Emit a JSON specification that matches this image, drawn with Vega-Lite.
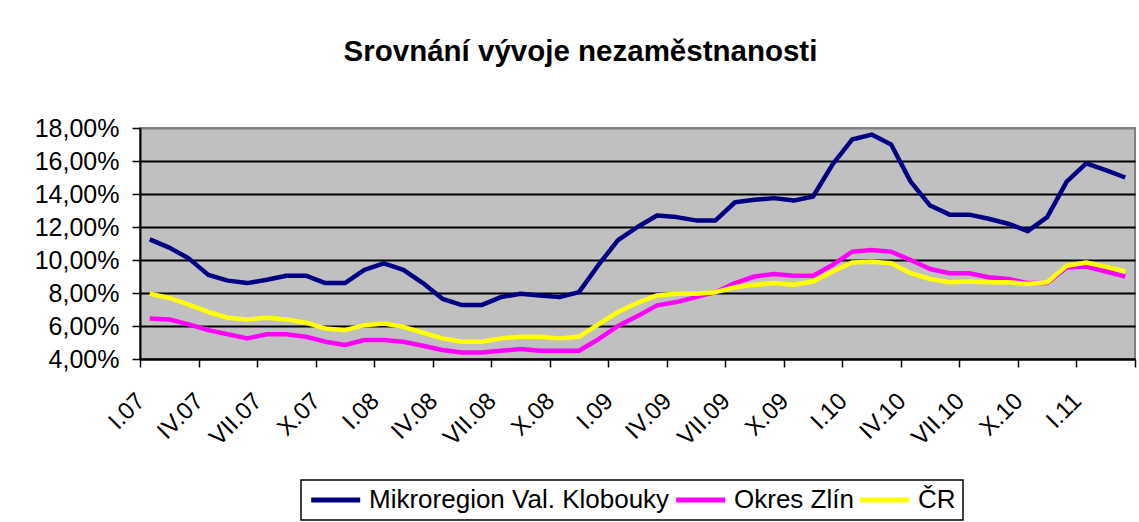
{
  "$schema": "https://vega.github.io/schema/vega-lite/v6.json",
  "autosize": {"type": "none"},
  "width": 995,
  "height": 231,
  "padding": {"left": 140, "top": 128, "right": 4, "bottom": 163},
  "background": "white",
  "title": {
    "text": "Srovnání vývoje nezaměstnanosti",
    "font": "Liberation Sans",
    "fontSize": 29.5,
    "fontWeight": "bold",
    "color": "black",
    "anchor": "middle",
    "frame": "group",
    "dx": -57,
    "baseline": "alphabetic",
    "offset": 26
  },
  "data": {
    "values": [
      {"i": 0, "m": "I.07", "klobouky": 11.25, "zlin": 6.45, "cr": 7.95},
      {"i": 1, "m": "II.07", "klobouky": 10.75, "zlin": 6.4, "cr": 7.7},
      {"i": 2, "m": "III.07", "klobouky": 10.1, "zlin": 6.1, "cr": 7.3},
      {"i": 3, "m": "IV.07", "klobouky": 9.1, "zlin": 5.75, "cr": 6.85},
      {"i": 4, "m": "V.07", "klobouky": 8.75, "zlin": 5.5, "cr": 6.5},
      {"i": 5, "m": "VI.07", "klobouky": 8.6, "zlin": 5.25, "cr": 6.4},
      {"i": 6, "m": "VII.07", "klobouky": 8.8, "zlin": 5.5, "cr": 6.5},
      {"i": 7, "m": "VIII.07", "klobouky": 9.05, "zlin": 5.5, "cr": 6.4},
      {"i": 8, "m": "IX.07", "klobouky": 9.05, "zlin": 5.35, "cr": 6.2},
      {"i": 9, "m": "X.07", "klobouky": 8.6, "zlin": 5.05, "cr": 5.85},
      {"i": 10, "m": "XI.07", "klobouky": 8.6, "zlin": 4.85, "cr": 5.75},
      {"i": 11, "m": "XII.07", "klobouky": 9.4, "zlin": 5.15, "cr": 6.05},
      {"i": 12, "m": "I.08", "klobouky": 9.8, "zlin": 5.15, "cr": 6.15},
      {"i": 13, "m": "II.08", "klobouky": 9.4, "zlin": 5.05, "cr": 5.95},
      {"i": 14, "m": "III.08", "klobouky": 8.6, "zlin": 4.8, "cr": 5.6},
      {"i": 15, "m": "IV.08", "klobouky": 7.65, "zlin": 4.55, "cr": 5.25},
      {"i": 16, "m": "V.08", "klobouky": 7.27, "zlin": 4.4, "cr": 5.05},
      {"i": 17, "m": "VI.08", "klobouky": 7.27, "zlin": 4.4, "cr": 5.05},
      {"i": 18, "m": "VII.08", "klobouky": 7.75, "zlin": 4.5, "cr": 5.25},
      {"i": 19, "m": "VIII.08", "klobouky": 7.95, "zlin": 4.6, "cr": 5.35},
      {"i": 20, "m": "IX.08", "klobouky": 7.85, "zlin": 4.5, "cr": 5.35},
      {"i": 21, "m": "X.08", "klobouky": 7.75, "zlin": 4.5, "cr": 5.25},
      {"i": 22, "m": "XI.08", "klobouky": 8.05, "zlin": 4.5, "cr": 5.35},
      {"i": 23, "m": "XII.08", "klobouky": 9.7, "zlin": 5.2, "cr": 6.1},
      {"i": 24, "m": "I.09", "klobouky": 11.2, "zlin": 6.0, "cr": 6.85},
      {"i": 25, "m": "II.09", "klobouky": 12.0, "zlin": 6.6, "cr": 7.4},
      {"i": 26, "m": "III.09", "klobouky": 12.7, "zlin": 7.25, "cr": 7.85},
      {"i": 27, "m": "IV.09", "klobouky": 12.6, "zlin": 7.45, "cr": 7.95},
      {"i": 28, "m": "V.09", "klobouky": 12.4, "zlin": 7.75, "cr": 7.95},
      {"i": 29, "m": "VI.09", "klobouky": 12.4, "zlin": 8.05, "cr": 8.05},
      {"i": 30, "m": "VII.09", "klobouky": 13.5, "zlin": 8.6, "cr": 8.35},
      {"i": 31, "m": "VIII.09", "klobouky": 13.65, "zlin": 9.0, "cr": 8.5},
      {"i": 32, "m": "IX.09", "klobouky": 13.75, "zlin": 9.15, "cr": 8.6},
      {"i": 33, "m": "X.09", "klobouky": 13.6, "zlin": 9.05, "cr": 8.5},
      {"i": 34, "m": "XI.09", "klobouky": 13.85, "zlin": 9.05, "cr": 8.7},
      {"i": 35, "m": "XII.09", "klobouky": 15.8, "zlin": 9.7, "cr": 9.3},
      {"i": 36, "m": "I.10", "klobouky": 17.3, "zlin": 10.5, "cr": 9.85},
      {"i": 37, "m": "II.10", "klobouky": 17.6, "zlin": 10.6, "cr": 9.9},
      {"i": 38, "m": "III.10", "klobouky": 17.0, "zlin": 10.5, "cr": 9.8},
      {"i": 39, "m": "IV.10", "klobouky": 14.75, "zlin": 10.0, "cr": 9.2},
      {"i": 40, "m": "V.10", "klobouky": 13.3, "zlin": 9.45, "cr": 8.85},
      {"i": 41, "m": "VI.10", "klobouky": 12.75, "zlin": 9.2, "cr": 8.65},
      {"i": 42, "m": "VII.10", "klobouky": 12.75, "zlin": 9.2, "cr": 8.7},
      {"i": 43, "m": "VIII.10", "klobouky": 12.5, "zlin": 8.95, "cr": 8.65},
      {"i": 44, "m": "IX.10", "klobouky": 12.2, "zlin": 8.85, "cr": 8.65},
      {"i": 45, "m": "X.10", "klobouky": 11.75, "zlin": 8.6, "cr": 8.55},
      {"i": 46, "m": "XI.10", "klobouky": 12.6, "zlin": 8.6, "cr": 8.65},
      {"i": 47, "m": "XII.10", "klobouky": 14.75, "zlin": 9.55, "cr": 9.65},
      {"i": 48, "m": "I.11", "klobouky": 15.85, "zlin": 9.6, "cr": 9.85},
      {"i": 49, "m": "II.11", "klobouky": 15.45, "zlin": 9.3, "cr": 9.6},
      {"i": 50, "m": "III.11", "klobouky": 15.0, "zlin": 9.0, "cr": 9.3}
    ]
  },
  "transform": [
    {"fold": ["klobouky", "zlin", "cr"], "as": ["series", "rate"]}
  ],
  "mark": {"type": "line", "strokeWidth": 4.5, "strokeJoin": "round", "clip": false},
  "encoding": {
    "x": {
      "field": "i",
      "type": "quantitative",
      "scale": {"domain": [-0.5, 50.5], "nice": false, "zero": false},
      "axis": {
        "title": null,
        "grid": false,
        "values": [-0.5, 0, 2.5, 3, 5.5, 6, 8.5, 9, 11.5, 12, 14.5, 15, 17.5, 18, 20.5, 21, 23.5, 24, 26.5, 27, 29.5, 30, 32.5, 33, 35.5, 36, 38.5, 39, 41.5, 42, 44.5, 45, 47.5, 48, 50.5],
        "labelExpr": "datum.value % 3 == 0 ? ['I','II','III','IV','V','VI','VII','VIII','IX','X','XI','XII'][datum.value % 12] + '.' + (datum.value < 36 ? '0' : '') + floor(7 + datum.value / 12) : ''",
        "labelAngle": -45,
        "labelAlign": "right",
        "labelBaseline": "middle",
        "labelPadding": 30,
        "labelOffset": -9,
        "labelOverlap": false,
        "labelFlush": false,
        "labelBound": false,
        "labelFont": "Liberation Sans",
        "labelFontSize": 24,
        "labelColor": "black",
        "tickSize": 8,
        "tickWidth": 1.5,
        "tickColor": "black",
        "tickOpacity": {"condition": {"test": "datum.value % 3 == 0", "value": 0}, "value": 1},
        "domainColor": "black",
        "domainWidth": 2
      }
    },
    "y": {
      "field": "rate",
      "type": "quantitative",
      "scale": {"domain": [4, 18], "nice": false, "zero": false},
      "axis": {
        "title": null,
        "values": [4, 6, 8, 10, 12, 14, 16, 18],
        "labelExpr": "replace(format(datum.value, '.2f'), '.', ',') + '%'",
        "labelFont": "Liberation Sans",
        "labelFontSize": 25,
        "labelColor": "black",
        "labelPadding": 13,
        "labelBound": false,
        "labelFlush": false,
        "labelOverlap": false,
        "tickSize": 8,
        "tickWidth": 1.5,
        "tickColor": "black",
        "grid": true,
        "gridWidth": 1.8,
        "gridColor": {"condition": {"test": "datum.value == 18", "value": "#808080"}, "value": "black"},
        "domainColor": "black",
        "domainWidth": 2
      }
    },
    "color": {
      "field": "series",
      "type": "nominal",
      "scale": {
        "domain": ["klobouky", "zlin", "cr"],
        "range": ["#000080", "#FF00FF", "#FFFF00"]
      },
      "legend": {
        "title": null,
        "orient": "none",
        "direction": "horizontal",
        "columns": 3,
        "legendX": 161,
        "legendY": 352,
        "padding": 7,
        "strokeColor": "black",
        "symbolType": "M -1 0 H 4",
        "symbolSize": 384,
        "symbolStrokeWidth": 5,
        "labelOffset": 35,
        "columnPadding": -4,
        "labelFont": "Liberation Sans",
        "labelFontSize": 26,
        "labelColor": "black",
        "labelLimit": 0,
        "labelExpr": "datum.value == 'klobouky' ? 'Mikroregion Val. Klobouky' : datum.value == 'zlin' ? 'Okres Zlín' : 'ČR'"
      }
    }
  },
  "config": {
    "view": {"fill": "#C0C0C0", "stroke": "#808080", "strokeWidth": 2},
    "legend": {"strokeWidth": 1.5}
  }
}
